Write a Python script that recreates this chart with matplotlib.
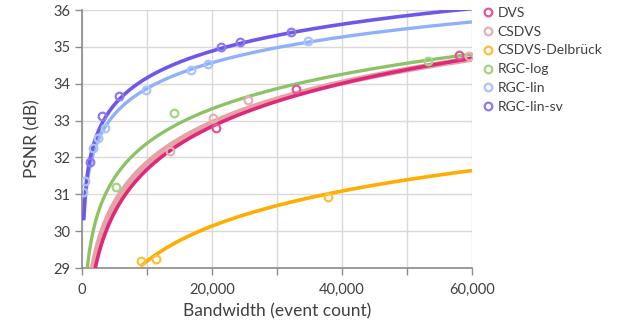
import numpy as np
import matplotlib
matplotlib.use("Agg")
import matplotlib.pyplot as plt
from matplotlib.ticker import FuncFormatter, MultipleLocator

plt.rcParams['font.family'] = ['Lato', 'DejaVu Sans']

# series names and colours (line colour, marker colour)
names = ["DVS", "CSDVS", "CSDVS-Delbrück", "RGC-log", "RGC-lin", "RGC-lin-sv"]
line_colors = ["#E0287A", "#E4A3A6", "#FFAD00", "#8DC366", "#8FB0FA", "#6E58EC"]
marker_colors = ["#E5559A", "#E3B2B4", "#FFBE3A", "#A3D386", "#A9C3FF", "#8C7BEE"]

# measured points: bandwidth (events) and PSNR (dB)
dvs_x = [20600, 32900, 57950]
dvs_y = [32.79, 33.85, 34.78]
csdvs_x = [13500, 20200, 25500, 59500]
csdvs_y = [32.18, 33.07, 33.57, 34.74]
delb_x = [9030, 11400, 37900]
delb_y = [29.19, 29.24, 30.92]
rgclog_x = [5230, 14150, 53300]
rgclog_y = [31.19, 33.20, 34.62]
rgclin_x = [200, 460, 1740, 2500, 3540, 9850, 16700, 19400, 34800]
rgclin_y = [31.07, 31.37, 32.25, 32.53, 32.79, 33.83, 34.38, 34.53, 35.15]
rgcsv_x = [1230, 3150, 5650, 21400, 24300, 32150]
rgcsv_y = [31.87, 33.12, 33.68, 35.00, 35.14, 35.41]

# logarithmic trendlines: y = a*ln(x/1000) + b, from x_start
trend_a = [1.683, 1.580, 1.371, 1.350, 1.008, 1.0485]
trend_b = [27.80, 28.203, 26.031, 29.276, 31.551, 31.747]
trend_start = [500, 500, 9000, 300, 300, 250]

xs = [dvs_x, csdvs_x, delb_x, rgclog_x, rgclin_x, rgcsv_x]
ys = [dvs_y, csdvs_y, delb_y, rgclog_y, rgclin_y, rgcsv_y]
line_widths = [2.6, 4.2, 2.6, 2.4, 2.4, 2.6]
line_z = [6, 5, 4, 3, 4, 5]

fig = plt.figure(figsize=(6.19, 3.35), dpi=100)
ax = fig.add_axes([0.1325, 0.2, 0.63, 0.77])

for i in range(len(names)):
    tx = np.linspace(trend_start[i], 60000, 400)
    ty = trend_a[i] * np.log(tx / 1000.0) + trend_b[i]
    ax.plot(tx, ty, color=line_colors[i], lw=line_widths[i], zorder=line_z[i],
            solid_capstyle='butt')
    ax.plot(xs[i], ys[i], linestyle='none', marker='o', ms=5.5, mfc='none',
            mec=marker_colors[i], mew=1.6, zorder=7, label=names[i])

ax.set_xlim(0, 60000)
ax.set_ylim(29, 36)
ax.xaxis.set_major_locator(MultipleLocator(20000))
ax.xaxis.set_minor_locator(MultipleLocator(10000))
ax.yaxis.set_major_locator(MultipleLocator(1))
ax.xaxis.set_major_formatter(FuncFormatter(lambda v, p: f"{int(v):,}"))

ax.grid(True, which='both', color='#D9D9D9', lw=1.0, zorder=0)
ax.set_axisbelow(True)
for s in ['top', 'right']:
    ax.spines[s].set_visible(False)
for s in ['left', 'bottom']:
    ax.spines[s].set_color('#8C8C8C')
    ax.spines[s].set_linewidth(1.2)
ax.tick_params(which='both', length=5, color='#8C8C8C', width=1.0,
               labelsize=10.5, labelcolor='#404040')
ax.tick_params(axis='x', pad=6)

ax.set_xlabel("Bandwidth (event count)", fontsize=12.5, color='#404040', labelpad=4)
ax.set_ylabel("PSNR (dB)", fontsize=12.5, color='#404040', labelpad=9)

leg = ax.legend(loc='upper left', bbox_to_anchor=(1.005, 1.035), frameon=False,
                fontsize=10, handletextpad=0.1, labelspacing=0.5,
                handlelength=1.2, borderaxespad=0.0, labelcolor='#404040')

fig.savefig("out.png", dpi=100)
